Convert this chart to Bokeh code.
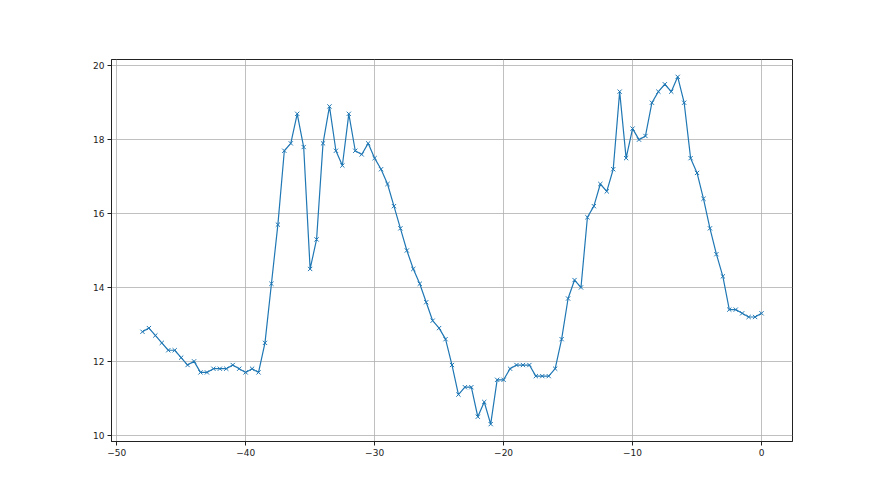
from bokeh.plotting import figure
from bokeh.models import FixedTicker, Range1d
from bokeh.embed import file_html
from bokeh.resources import INLINE

x_start = -48.0
x_step = 0.5
y_values = [
    12.8, 12.9, 12.7, 12.5, 12.3, 12.3, 12.1, 11.9, 12.0, 11.7,
    11.7, 11.8, 11.8, 11.8, 11.9, 11.8, 11.7, 11.8, 11.7, 12.5,
    14.1, 15.7, 17.7, 17.9, 18.7, 17.8, 14.5, 15.3, 17.9, 18.9,
    17.7, 17.3, 18.7, 17.7, 17.6, 17.9, 17.5, 17.2, 16.8, 16.2,
    15.6, 15.0, 14.5, 14.1, 13.6, 13.1, 12.9, 12.6, 11.9, 11.1,
    11.3, 11.3, 10.5, 10.9, 10.3, 11.5, 11.5, 11.8, 11.9, 11.9,
    11.9, 11.6, 11.6, 11.6, 11.8, 12.6, 13.7, 14.2, 14.0, 15.9,
    16.2, 16.8, 16.6, 17.2, 19.3, 17.5, 18.3, 18.0, 18.1, 19.0,
    19.3, 19.5, 19.3, 19.7, 19.0, 17.5, 17.1, 16.4, 15.6, 14.9,
    14.3, 13.4, 13.4, 13.3, 13.2, 13.2, 13.3,
]
x_values = [x_start + i * x_step for i in range(len(y_values))]

x_ticks = [-50, -40, -30, -20, -10, 0]
y_ticks = [10, 12, 14, 16, 18, 20]
x_tick_labels = {t: str(t).replace("-", "\u2212") for t in x_ticks}

p = figure(
    width=864, height=479,
    output_backend="svg", toolbar_location=None,
    x_range=Range1d(-50.4, 2.4), y_range=Range1d(9.83, 20.17),
    min_border_left=111, min_border_right=72,
    min_border_top=59, min_border_bottom=38,
    background_fill_color="white", border_fill_color="white",
)
p.outline_line_color = "#222222"
p.outline_line_width = 1

p.line(x_values, y_values, line_color="#1f77b4", line_width=1.2)
p.scatter(x_values, y_values, marker="x", size=6, line_color="#1f77b4", line_width=1)

p.xaxis.ticker = FixedTicker(ticks=x_ticks)
p.yaxis.ticker = FixedTicker(ticks=y_ticks)
p.xaxis.major_label_overrides = x_tick_labels

for ax in (p.xaxis, p.yaxis):
    ax.axis_line_color = "#222222"
    ax.major_tick_line_color = "#222222"
    ax.major_tick_out = 4
    ax.major_tick_in = 0
    ax.minor_tick_line_color = None
    ax.major_label_text_font = "DejaVu Sans"
    ax.major_label_text_font_size = "9px"
    ax.major_label_text_color = "#222222"
    ax.major_label_standoff = 3

p.xgrid.grid_line_color = "#b0b0b0"
p.ygrid.grid_line_color = "#b0b0b0"
p.xgrid.grid_line_width = 0.8
p.ygrid.grid_line_width = 0.8

open("out.html", "w").write(file_html(p, INLINE))
